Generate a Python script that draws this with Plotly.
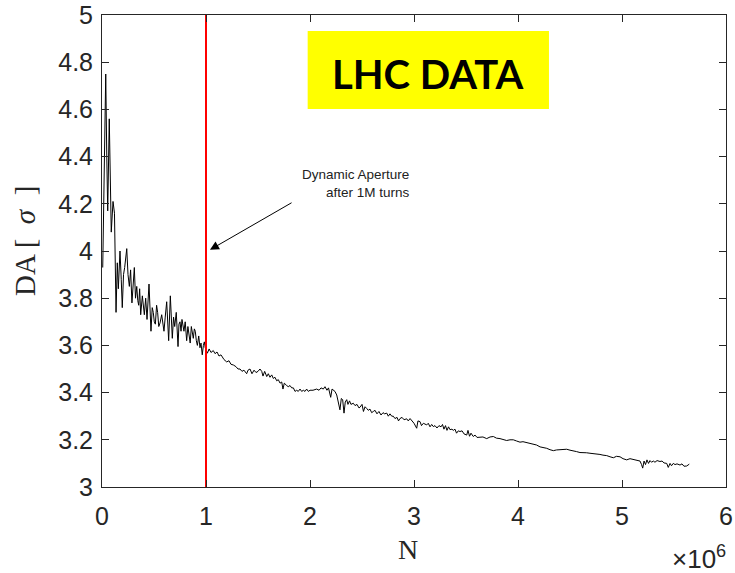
import plotly.graph_objects as go

# N in units of 1e6 turns, DA in sigma
turns_1e6 = [
    0.007, 0.020, 0.036, 0.046, 0.055, 0.070, 0.080, 0.089, 0.106, 0.120, 0.135, 0.147, 0.157, 0.173,
    0.185, 0.195, 0.207, 0.218, 0.238, 0.250, 0.263, 0.275, 0.288, 0.300, 0.311, 0.322, 0.334, 0.344,
    0.353, 0.362, 0.372, 0.388, 0.397, 0.407, 0.420, 0.433, 0.452, 0.462, 0.471, 0.483, 0.493, 0.503,
    0.513, 0.525, 0.535, 0.546, 0.558, 0.574, 0.585, 0.596, 0.608, 0.622, 0.641, 0.657, 0.676, 0.688,
    0.699, 0.714, 0.731, 0.740, 0.750, 0.760, 0.769, 0.788, 0.800, 0.814, 0.826, 0.837, 0.848, 0.859,
    0.869, 0.878, 0.888, 0.897, 0.907, 0.917, 0.930, 0.942, 0.952, 0.964, 0.975, 0.984, 0.993,
    1.003, 1.013, 1.030, 1.048, 1.070, 1.087, 1.106, 1.125, 1.144, 1.173, 1.199, 1.221, 1.240, 1.263,
    1.288, 1.308, 1.327, 1.346, 1.365, 1.391, 1.404, 1.423, 1.442, 1.462, 1.481, 1.500, 1.519, 1.536,
    1.548, 1.564, 1.584, 1.599, 1.615, 1.632, 1.647, 1.663, 1.680, 1.695, 1.712, 1.728, 1.740, 1.753,
    1.776, 1.791, 1.808, 1.824, 1.840, 1.856, 1.872, 1.887, 1.904, 1.920, 1.936, 1.952, 1.968, 1.984,
    2.000, 2.029, 2.064, 2.087, 2.106, 2.128, 2.144, 2.163, 2.178, 2.199, 2.212, 2.224, 2.240, 2.257,
    2.269, 2.288, 2.301, 2.314, 2.327, 2.339, 2.353, 2.365, 2.380, 2.394, 2.416, 2.433, 2.452, 2.471,
    2.481, 2.500, 2.514, 2.529, 2.545, 2.560, 2.577, 2.593, 2.609, 2.625, 2.644, 2.663, 2.683, 2.702,
    2.718, 2.738, 2.753, 2.769, 2.786, 2.801, 2.817, 2.837, 2.851, 2.865, 2.885, 2.904, 2.930, 2.945,
    2.962, 2.981, 3.000, 3.026, 3.038, 3.058, 3.072, 3.090, 3.106, 3.122, 3.137, 3.154, 3.170, 3.186,
    3.202, 3.221, 3.240, 3.260, 3.274, 3.288, 3.303, 3.317, 3.332, 3.346, 3.365, 3.378, 3.394, 3.409,
    3.426, 3.442, 3.462, 3.481, 3.507, 3.519, 3.534, 3.548, 3.570, 3.587, 3.606, 3.635, 3.663, 3.699,
    3.731, 3.763, 3.793, 3.827, 3.856, 3.891, 3.923, 3.955, 3.986, 4.019, 4.048, 4.084, 4.115, 4.147,
    4.178, 4.212, 4.240, 4.276, 4.308, 4.340, 4.370, 4.404, 4.433, 4.468, 4.500, 4.532, 4.563, 4.596,
    4.625, 4.660, 4.692, 4.724, 4.755, 4.788, 4.817, 4.853, 4.885, 4.917, 4.947, 4.981, 5.010, 5.045,
    5.077, 5.109, 5.139, 5.173, 5.188, 5.199, 5.212, 5.226, 5.240, 5.255, 5.269, 5.284, 5.301, 5.317,
    5.337, 5.365, 5.385, 5.404, 5.430, 5.445, 5.462, 5.476, 5.493, 5.510, 5.529, 5.558, 5.577, 5.596,
    5.622, 5.635, 5.647,
]
da_sigma = [
    3.93, 4.30, 4.75, 4.40, 4.17, 4.56, 4.20, 4.08, 4.21, 4.16, 3.74, 3.95, 3.84, 4.00,
    3.88, 3.76, 3.90, 3.93, 4.01, 3.90, 3.85, 3.92, 3.78, 3.86, 3.93, 3.80, 3.85, 3.79,
    3.77, 3.84, 3.73, 3.81, 3.76, 3.73, 3.80, 3.71, 3.86, 3.72, 3.66, 3.76, 3.74, 3.70,
    3.69, 3.77, 3.74, 3.68, 3.695, 3.73, 3.70, 3.66, 3.72, 3.785, 3.62, 3.81, 3.63, 3.72,
    3.68, 3.74, 3.595, 3.69, 3.70, 3.66, 3.71, 3.66, 3.70, 3.62, 3.68, 3.65, 3.61, 3.68,
    3.64, 3.63, 3.67, 3.66, 3.62, 3.60, 3.64, 3.59, 3.61, 3.56, 3.60, 3.615, 3.59,
    3.58, 3.567, 3.585, 3.57, 3.578, 3.565, 3.572, 3.555, 3.56, 3.54, 3.53, 3.535, 3.52, 3.517,
    3.51, 3.50, 3.50, 3.49, 3.495, 3.48, 3.495, 3.50, 3.48, 3.495, 3.485, 3.49, 3.50, 3.49,
    3.47, 3.49, 3.468, 3.48, 3.465, 3.475, 3.46, 3.465, 3.45, 3.455, 3.44, 3.445, 3.415, 3.44,
    3.43, 3.425, 3.43, 3.42, 3.42, 3.405, 3.41, 3.405, 3.415, 3.405, 3.41, 3.405, 3.415, 3.405,
    3.41, 3.41, 3.415, 3.41, 3.42, 3.415, 3.425, 3.41, 3.42, 3.38, 3.415, 3.41, 3.405, 3.39,
    3.36, 3.327, 3.375, 3.37, 3.313, 3.36, 3.37, 3.35, 3.365, 3.35, 3.355, 3.345, 3.35, 3.335,
    3.338, 3.35, 3.32, 3.34, 3.333, 3.325, 3.33, 3.315, 3.32, 3.325, 3.31, 3.32, 3.305, 3.315,
    3.31, 3.313, 3.30, 3.31, 3.30, 3.30, 3.29, 3.295, 3.28, 3.29, 3.295, 3.285, 3.289, 3.28,
    3.29, 3.28, 3.27, 3.249, 3.28, 3.277, 3.26, 3.27, 3.265, 3.263, 3.27, 3.255, 3.265, 3.256,
    3.26, 3.25, 3.26, 3.255, 3.265, 3.245, 3.26, 3.24, 3.255, 3.243, 3.245, 3.24, 3.245, 3.228,
    3.238, 3.235, 3.238, 3.225, 3.22, 3.24, 3.215, 3.228, 3.214, 3.22, 3.21, 3.21, 3.212, 3.205,
    3.212, 3.214, 3.207, 3.205, 3.20, 3.197, 3.20, 3.20, 3.195, 3.19, 3.192, 3.188, 3.186, 3.183,
    3.178, 3.17, 3.168, 3.164, 3.158, 3.154, 3.157, 3.157, 3.16, 3.16, 3.156, 3.154, 3.15, 3.146,
    3.147, 3.145, 3.143, 3.142, 3.14, 3.138, 3.135, 3.133, 3.128, 3.124, 3.13, 3.128, 3.12, 3.115,
    3.12, 3.117, 3.114, 3.11, 3.095, 3.08, 3.11, 3.095, 3.115, 3.10, 3.112, 3.105, 3.11, 3.105,
    3.112, 3.108, 3.11, 3.102, 3.10, 3.083, 3.10, 3.09, 3.10, 3.095, 3.098, 3.093, 3.098, 3.088,
    3.089, 3.095, 3.097,
]
marker_turns_1e6 = [1.0, 1.0]
marker_da = [3.0, 5.0]
x_tickvals = [0, 1, 2, 3, 4, 5, 6]
x_ticktext = ["0", "1", "2", "3", "4", "5", "6"]
y_tickvals = [3, 3.2, 3.4, 3.6, 3.8, 4, 4.2, 4.4, 4.6, 4.8, 5]
y_ticktext = ["3", "3.2", "3.4", "3.6", "3.8", "4", "4.2", "4.4", "4.6", "4.8", "5"]

AX = "#262626"
fig = go.Figure()
fig.add_trace(go.Scatter(x=turns_1e6, y=da_sigma, mode="lines",
                         line=dict(color="black", width=1), hoverinfo="skip"))
fig.add_trace(go.Scatter(x=marker_turns_1e6, y=marker_da, mode="lines",
                         line=dict(color="#ff0000", width=2), hoverinfo="skip"))

axis_common = dict(showline=True, linecolor=AX, linewidth=1, mirror="ticks",
                   ticks="inside", ticklen=7, tickcolor=AX, tickwidth=1,
                   showgrid=False, zeroline=False, automargin=False,
                   tickfont=dict(family="Liberation Sans", size=25, color=AX))
fig.update_xaxes(range=[0, 6], tickvals=x_tickvals, ticktext=x_ticktext,
                 ticklabelstandoff=7, **axis_common)
fig.update_yaxes(range=[3, 5], tickvals=y_tickvals, ticktext=y_ticktext,
                 ticklabelstandoff=3, **axis_common)

fig.add_shape(type="rect", xref="paper", yref="paper", x0=0.3296, x1=0.7163, y0=0.8008, y1=0.966,
              fillcolor="#ffff00", line=dict(width=0), layer="above")

anns = [
    dict(text="<b>LHC DATA</b>", xref="paper", yref="paper", x=0.5216, y=0.8754,
         xanchor="center", yanchor="middle", showarrow=False,
         font=dict(family="Lato", size=40, color="black")),
    dict(text="Dynamic Aperture<br>after 1M turns", xref="x", yref="y", x=2.981, y=4.284,
         xanchor="right", yanchor="middle", align="right", showarrow=False,
         font=dict(family="Liberation Sans", size=13.5, color="#222222")),
    dict(text="", xref="x", yref="y", x=1.038, y=4.005, axref="x", ayref="y", ax=1.837, ay=4.208,
         showarrow=True, arrowhead=2, arrowsize=1.8, arrowwidth=1, arrowcolor="black"),
    dict(text="DA\u2009[\u2002<i>σ</i>\u2002]", xref="paper", yref="paper", x=0, y=0.5,
         xanchor="center", yanchor="middle", xshift=-77, yshift=10, textangle=-90, showarrow=False,
         font=dict(family="Liberation Serif", size=29, color=AX)),
    dict(text="N", xref="paper", yref="paper", x=0.5, y=0, xanchor="center", yanchor="middle",
         yshift=-62, xshift=-6, showarrow=False,
         font=dict(family="Liberation Serif", size=28, color=AX)),
    dict(text="×10<sup>6</sup>", xref="paper", yref="paper", x=1, y=0, xanchor="right", yanchor="middle",
         yshift=-70, xshift=2, showarrow=False,
         font=dict(family="Liberation Sans", size=26, color=AX)),
]
fig.update_layout(annotations=anns, width=735, height=573, showlegend=False,
                  margin=dict(l=102, r=9, t=15, b=86),
                  plot_bgcolor="white", paper_bgcolor="white")
fig.write_html("out.html")
